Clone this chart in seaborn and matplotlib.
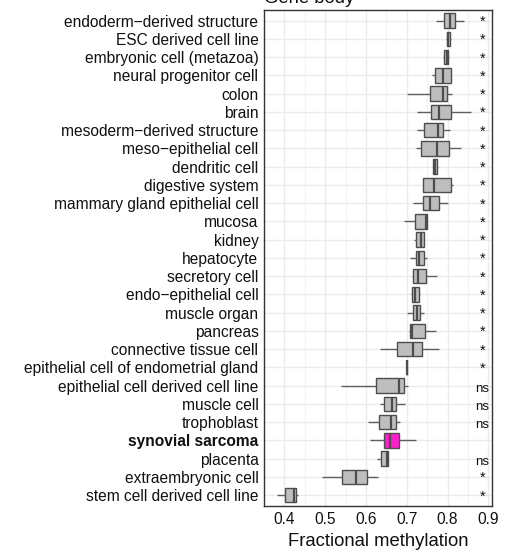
import numpy as np
import pandas as pd
import matplotlib
matplotlib.use("Agg")
import matplotlib.pyplot as plt
import seaborn as sns

categories = [
    "endoderm\u2212derived structure", "ESC derived cell line", "embryonic cell (metazoa)",
    "neural progenitor cell", "colon", "brain", "mesoderm\u2212derived structure",
    "meso\u2212epithelial cell", "dendritic cell", "digestive system",
    "mammary gland epithelial cell", "mucosa", "kidney", "hepatocyte", "secretory cell",
    "endo\u2212epithelial cell", "muscle organ", "pancreas", "connective tissue cell",
    "epithelial cell of endometrial gland", "epithelial cell derived cell line",
    "muscle cell", "trophoblast", "synovial sarcoma", "placenta", "extraembryonic cell",
    "stem cell derived cell line",
]
wmin = [0.772, 0.796, 0.790, 0.763, 0.701, 0.724, 0.725, 0.723, 0.764, 0.741, 0.716,
        0.694, 0.718, 0.709, 0.713, 0.711, 0.701, 0.705, 0.634, 0.6995, 0.538, 0.634,
        0.605, 0.609, 0.627, 0.493, 0.382]
q1 = [0.792, 0.798, 0.792, 0.770, 0.756, 0.760, 0.743, 0.736, 0.765, 0.741, 0.740,
      0.720, 0.722, 0.722, 0.716, 0.714, 0.715, 0.709, 0.676, 0.6998, 0.625, 0.645,
      0.633, 0.645, 0.638, 0.542, 0.4015]
med = [0.805, 0.800, 0.799, 0.789, 0.790, 0.778, 0.776, 0.773, 0.768, 0.766, 0.757,
       0.746, 0.735, 0.729, 0.728, 0.721, 0.724, 0.713, 0.715, 0.7005, 0.680, 0.665,
       0.661, 0.659, 0.651, 0.575, 0.423]
q3 = [0.818, 0.806, 0.802, 0.808, 0.799, 0.808, 0.789, 0.804, 0.775, 0.808, 0.778,
      0.749, 0.742, 0.742, 0.748, 0.730, 0.733, 0.744, 0.737, 0.7012, 0.693, 0.673,
      0.674, 0.682, 0.654, 0.603, 0.429]
wmax = [0.841, 0.808, 0.803, 0.808, 0.812, 0.858, 0.806, 0.833, 0.777, 0.814, 0.802,
        0.749, 0.743, 0.749, 0.774, 0.733, 0.743, 0.771, 0.778, 0.7015, 0.703, 0.695,
        0.683, 0.723, 0.654, 0.630, 0.433]
signif = ["*"] * 20 + ["ns", "ns", "ns", "", "ns", "*", "*"]
highlight = "synovial sarcoma"
xticks = [0.4, 0.5, 0.6, 0.7, 0.8, 0.9]

rows = []
for c, a, b, m, d, e in zip(categories, wmin, q1, med, q3, wmax):
    for v in (a, b, m, d, e):
        rows.append((c, v))
df = pd.DataFrame(rows, columns=["category", "value"])

sns.set_style("white")
plt.rcParams["font.family"] = ["Liberation Sans", "DejaVu Sans"]

W, H = 506, 552
fig = plt.figure(figsize=(W / 100, H / 100), dpi=100)
ax = fig.add_axes([264 / W, 1 - 506 / H, (492.3 - 264) / W, (506 - 9.7) / H])

palette = {c: ("#FF1DCE" if c == highlight else "#BEBEBE") for c in categories}
sns.boxplot(data=df, x="value", y="category", hue="category", order=categories,
            hue_order=categories, palette=palette, saturation=1, whis=(0, 100),
            width=0.8, linewidth=1.0, linecolor="#4D4D4D", showcaps=False,
            legend=False, ax=ax,
            whiskerprops={"color": "#5E5E5E"},
            medianprops={"linewidth": 1.6, "color": "#4D4D4D"})

ax.set_xlim(0.357, 0.9097)
ax.set_ylim(len(categories) - 1 + 0.6, -0.6)
ax.set_xticks(xticks)
ax.set_xticklabels([f"{t:.1f}" for t in xticks])
ax.set_xticks(np.arange(0.35, 0.9, 0.1), minor=True)
ax.set_axisbelow(True)
ax.grid(which="major", color="#EBEBEB", linewidth=1.0)
ax.grid(which="minor", axis="x", color="#F2F2F2", linewidth=0.7)
ax.tick_params(which="minor", length=0)
ax.tick_params(which="major", length=3, width=0.8, color="#333333",
               labelsize=11.2, labelcolor="#111111", pad=1)
for sp in ax.spines.values():
    sp.set_visible(True)
    sp.set_color("#333333")
    sp.set_linewidth(1.0)

ax.set_ylabel("")
ax.set_xlabel("Fractional methylation", fontsize=13.3, labelpad=5, color="#111111")
for lab in ax.get_yticklabels():
    if lab.get_text() == highlight:
        lab.set_fontweight("bold")

for i, s in enumerate(signif):
    if not s:
        continue
    if s == "*":
        ax.text(0.886, i + 0.07, s, ha="center", va="center", fontsize=10.5,
                color="#111111")
    else:
        ax.text(0.886, i + 0.17, s, ha="center", va="center", fontsize=9.5,
                color="#111111")

fig.text(264 / W, 1 - 3 / H, "Gene body", ha="left", va="baseline",
         fontsize=13.3, color="#111111")

fig.savefig("out.png", dpi=100)
